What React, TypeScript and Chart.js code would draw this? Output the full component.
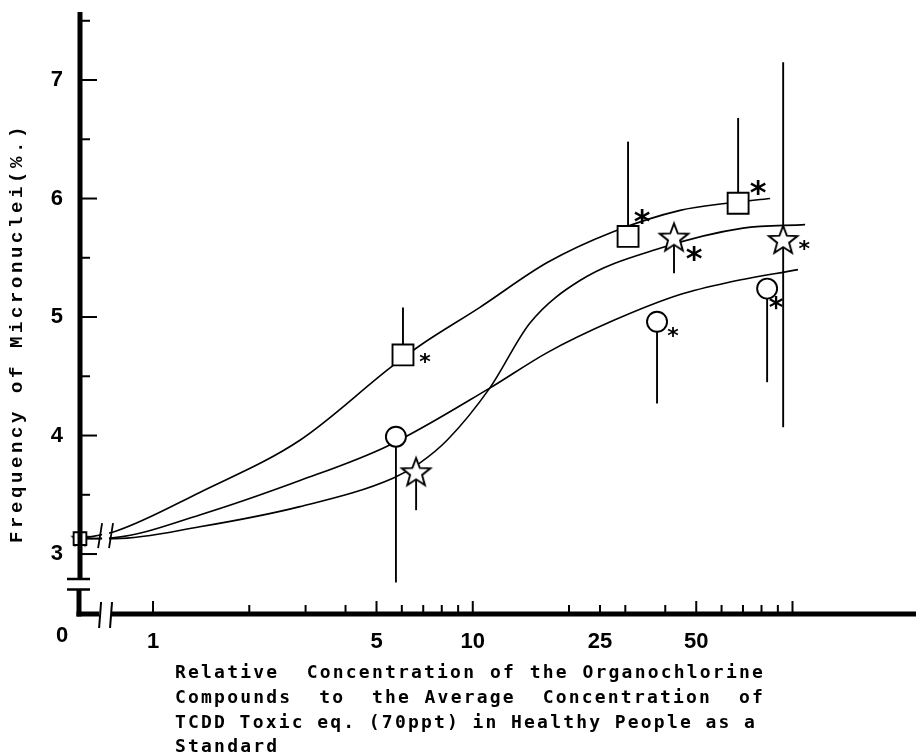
import { useEffect, useRef } from 'react';
import { Chart, registerables } from 'chart.js';

Chart.register(...registerables);

// ---- axis description -------------------------------------------------
const ZERO_X = 0.591; // plotting position of the "0" concentration (origin of broken axis)
const X_MIN = 0.591;
const X_MAX = 239.9;
const Y_MIN = 2.494;
const Y_MAX = 7.574;
const X_TICKS = [1, 2, 3, 4, 5, 6, 7, 8, 9, 10, 20, 25, 30, 40, 50, 60, 70, 80, 90, 100];
const X_MAJOR = [1, 5, 10, 50, 100];
const X_LABELS = [1, 5, 10, 25, 50];
const Y_TICKS = [3, 3.5, 4, 4.5, 5, 5.5, 6, 6.5, 7, 7.5];
const Y_LABELS = [3, 4, 5, 6, 7];
const X_BREAK = [0.683, 0.739];
const Y_BREAK = [2.7, 2.79];

// ---- measured points ----------------------------------------------------
const SQUARE_X = [ZERO_X, 6.05, 30.6, 67.6];
const SQUARE_Y = [3.13, 4.68, 5.68, 5.96];
const SQUARE_HI = [null, 5.08, 6.48, 6.68];
const SQUARE_LO = [null, null, null, null];
const SQUARE_SIG = [false, true, true, true];

const CIRCLE_X = [ZERO_X, 5.75, 37.7, 83.3];
const CIRCLE_Y = [3.13, 3.99, 4.96, 5.24];
const CIRCLE_HI = [null, null, null, null];
const CIRCLE_LO = [null, 2.76, 4.27, 4.45];
const CIRCLE_SIG = [false, false, true, true];

const STAR_X = [ZERO_X, 6.65, 42.6, 93.5];
const STAR_Y = [3.13, 3.69, 5.67, 5.65];
const STAR_HI = [null, null, null, 7.15];
const STAR_LO = [null, 3.37, 5.37, 4.07];
const STAR_SIG = [false, false, true, true];

// ---- fitted curves ------------------------------------------------------
const SQUARE_FIT_X = [ZERO_X, 0.76, 1.4, 2.88, 5.51, 6.84, 10.5, 17.1, 27.5, 44.5, 62.4, 85.1];
const SQUARE_FIT_Y = [3.13, 3.19, 3.52, 3.96, 4.57, 4.76, 5.08, 5.46, 5.72, 5.9, 5.96, 6.0];
const CIRCLE_FIT_X = [ZERO_X, 0.76, 1.4, 2.88, 5.4, 11.3, 17.1, 27.5, 44.5, 62.4, 104];
const CIRCLE_FIT_Y = [3.13, 3.14, 3.33, 3.62, 3.91, 4.4, 4.7, 4.97, 5.19, 5.29, 5.4];
const STAR_FIT_X = [ZERO_X, 0.76, 1.4, 2.88, 5.63, 6.84, 8.31, 11.3, 15.1, 21.7, 38.5, 70.0, 109.5];
const STAR_FIT_Y = [3.13, 3.13, 3.23, 3.4, 3.64, 3.77, 3.96, 4.4, 4.95, 5.31, 5.58, 5.75, 5.78];

const Y_TITLE = 'Frequency of Micronuclei(%.)';
const X_TITLE_LINES = [
  'Relative  Concentration of the Organochlorine',
  'Compounds  to  the Average  Concentration  of',
  'TCDD Toxic eq. (70ppt) in Healthy People as a',
  'Standard',
];

// asterisk placement (style only)
const SIG_STYLE: Record<string, any[]> = {
  square: [null, { dx: 22, dy: 3, size: 22 }, { dx: 14, dy: -20, size: 32 }, { dx: 20, dy: -16, size: 32 }],
  circle: [null, null, { dx: 16, dy: 11, size: 22 }, { dx: 9, dy: 15, size: 28 }],
  star: [null, null, { dx: 20, dy: 16, size: 32 }, { dx: 21, dy: 5, size: 22 }],
};

function makeStar(R: number, lw: number) {
  const r = R * 0.42;
  const size = Math.ceil(2 * R + lw * 2 + 4);
  const c = document.createElement('canvas');
  c.width = size;
  c.height = size;
  const g = c.getContext('2d')!;
  g.translate(size / 2, size / 2 + R * 0.05);
  g.beginPath();
  for (let i = 0; i < 10; i++) {
    const rad = i % 2 === 0 ? R : r;
    const a = -Math.PI / 2 + (i * Math.PI) / 5;
    g.lineTo(rad * Math.cos(a), rad * Math.sin(a));
  }
  g.closePath();
  g.fillStyle = '#fff';
  g.fill();
  g.lineWidth = lw;
  g.strokeStyle = '#000';
  g.stroke();
  return c;
}

const pts = (xs: number[], ys: number[]) => xs.map((x, i) => ({ x, y: ys[i] }));

export default function App() {
  const ref = useRef<HTMLCanvasElement>(null);

  useEffect(() => {
    const bigStar = makeStar(15, 1.9);
    const smallStar = makeStar(8, 1.5);

    const series = [
      { key: 'square', xs: SQUARE_X, ys: SQUARE_Y, hi: SQUARE_HI, lo: SQUARE_LO, sig: SQUARE_SIG },
      { key: 'circle', xs: CIRCLE_X, ys: CIRCLE_Y, hi: CIRCLE_HI, lo: CIRCLE_LO, sig: CIRCLE_SIG },
      { key: 'star', xs: STAR_X, ys: STAR_Y, hi: STAR_HI, lo: STAR_LO, sig: STAR_SIG },
    ];

    const decor = {
      id: 'decor',
      beforeDatasetsDraw(chart: any) {
        const { ctx } = chart;
        const X = (v: number) => chart.scales.x.getPixelForValue(v);
        const Y = (v: number) => chart.scales.y.getPixelForValue(v);
        ctx.save();
        ctx.strokeStyle = '#000';
        ctx.lineWidth = 1.9;
        series.forEach((s) => {
          s.xs.forEach((x, i) => {
            const ends = [s.hi[i], s.lo[i]];
            ends.forEach((e) => {
              if (e == null) return;
              ctx.beginPath();
              ctx.moveTo(X(x), Y(s.ys[i]));
              ctx.lineTo(X(x), Y(e));
              ctx.stroke();
            });
          });
        });
        ctx.restore();
      },
      afterDatasetsDraw(chart: any) {
        const { ctx } = chart;
        const X = (v: number) => chart.scales.x.getPixelForValue(v);
        const Y = (v: number) => chart.scales.y.getPixelForValue(v);
        ctx.save();
        // break in curves
        const b0 = X(X_BREAK[0]);
        const b1 = X(X_BREAK[1]);
        ctx.fillStyle = '#fff';
        ctx.fillRect(b0 + 2, Y(3.3), b1 - b0 - 4, Y(3.0) - Y(3.3));
        ctx.strokeStyle = '#000';
        ctx.lineWidth = 1.8;
        [b0, b1].forEach((b) => {
          ctx.beginPath();
          ctx.moveTo(b - 2, Y(3.05));
          ctx.lineTo(b + 2, Y(3.26));
          ctx.stroke();
        });
        // asterisks
        ctx.fillStyle = '#000';
        ctx.textAlign = 'center';
        ctx.textBaseline = 'middle';
        series.forEach((s) => {
          s.sig.forEach((flag, i) => {
            const st = SIG_STYLE[s.key][i];
            if (!flag || !st) return;
            ctx.font = `bold ${st.size}px "DejaVu Sans"`;
            ctx.fillText('*', X(s.xs[i]) + st.dx, Y(s.ys[i]) + st.dy + st.size * 0.22);
          });
        });
        ctx.restore();
      },
      afterDraw(chart: any) {
        const { ctx, chartArea } = chart;
        const X = (v: number) => chart.scales.x.getPixelForValue(v);
        const Y = (v: number) => chart.scales.y.getPixelForValue(v);
        const ax = X(ZERO_X);
        const bottom = chartArea.bottom;
        ctx.save();
        ctx.strokeStyle = '#000';
        ctx.lineCap = 'butt';
        // y axis
        ctx.lineWidth = 5;
        ctx.beginPath();
        ctx.moveTo(ax, chartArea.top);
        ctx.lineTo(ax, Y(Y_BREAK[1]));
        ctx.moveTo(ax - 1, Y(Y_BREAK[0]));
        ctx.lineTo(ax - 1, bottom + 2.5);
        ctx.stroke();
        ctx.lineWidth = 2.5;
        ctx.beginPath();
        ctx.moveTo(ax - 13, Y(Y_BREAK[1]));
        ctx.lineTo(ax + 10, Y(Y_BREAK[1]));
        ctx.moveTo(ax - 13, Y(Y_BREAK[0]));
        ctx.lineTo(ax + 10, Y(Y_BREAK[0]));
        ctx.stroke();
        // x axis
        const b0 = X(X_BREAK[0]);
        const b1 = X(X_BREAK[1]);
        ctx.lineWidth = 5;
        ctx.beginPath();
        ctx.moveTo(ax - 3.5, bottom);
        ctx.lineTo(b0 - 1, bottom);
        ctx.moveTo(b1, bottom);
        ctx.lineTo(chart.width, bottom);
        ctx.stroke();
        ctx.lineWidth = 2;
        [b0, b1].forEach((b) => {
          ctx.beginPath();
          ctx.moveTo(b - 1, bottom + 14);
          ctx.lineTo(b + 1, bottom - 12);
          ctx.stroke();
        });
        // ticks
        ctx.lineWidth = 2;
        Y_TICKS.forEach((v) => {
          const len = Number.isInteger(v) ? 17 : 10;
          ctx.beginPath();
          ctx.moveTo(ax, Y(v));
          ctx.lineTo(ax + len, Y(v));
          ctx.stroke();
        });
        X_TICKS.forEach((v) => {
          const len = X_MAJOR.includes(v) ? 13 : 9;
          ctx.beginPath();
          ctx.moveTo(X(v), bottom);
          ctx.lineTo(X(v), bottom - len);
          ctx.stroke();
        });
        // "0" label of the broken axis
        ctx.fillStyle = '#000';
        ctx.font = 'bold 22px "Liberation Sans"';
        ctx.textAlign = 'center';
        ctx.textBaseline = 'middle';
        ctx.fillText('0', ax - 18, bottom + 22);
        // y title
        ctx.save();
        ctx.translate(17, 333);
        ctx.rotate(-Math.PI / 2);
        ctx.font = 'bold 19px "Liberation Mono"';
        (ctx as any).letterSpacing = '3.6px';
        ctx.textAlign = 'center';
        ctx.textBaseline = 'middle';
        ctx.fillText(Y_TITLE, 0, 0);
        ctx.restore();
        // x title (justified lines)
        const x0 = 175;
        const rights = [765, 765, 757, null];
        const ys = [673, 698, 723, 747];
        ctx.font = 'bold 18px "DejaVu Sans Mono"';
        (ctx as any).letterSpacing = '2.2px';
        ctx.textAlign = 'left';
        ctx.textBaseline = 'middle';
        X_TITLE_LINES.forEach((line, i) => {
          (ctx as any).wordSpacing = '0px';
          const r = rights[i];
          if (r != null) {
            const w = ctx.measureText(line).width;
            const spaces = (line.match(/ /g) || []).length;
            if (spaces > 0) (ctx as any).wordSpacing = `${(r - x0 - w) / spaces}px`;
          }
          ctx.fillText(line, x0, ys[i]);
        });
        ctx.restore();
      },
    };

    const markerCommon = {
      type: 'scatter' as const,
      showLine: false,
      backgroundColor: '#fff',
      borderColor: '#000',
      borderWidth: 1.9,
      clip: false as any,
      order: 1,
    };
    const curveCommon = {
      type: 'line' as const,
      borderColor: '#000',
      borderWidth: 1.6,
      pointRadius: 0,
      fill: false,
      cubicInterpolationMode: 'monotone' as const,
      clip: false as any,
      order: 2,
    };

    const hiddenGrid = (len: number) => ({
      display: true,
      drawOnChartArea: false,
      drawTicks: true,
      tickLength: len,
      tickColor: 'rgba(0,0,0,0)',
      color: 'rgba(0,0,0,0)',
    });

    const chart = new Chart(ref.current!, {
      type: 'scatter',
      data: {
        datasets: [
          { ...curveCommon, label: 'square fit', data: pts(SQUARE_FIT_X, SQUARE_FIT_Y) },
          { ...curveCommon, label: 'circle fit', data: pts(CIRCLE_FIT_X, CIRCLE_FIT_Y) },
          { ...curveCommon, label: 'star fit', data: pts(STAR_FIT_X, STAR_FIT_Y) },
          {
            ...markerCommon,
            label: 'square',
            data: pts(SQUARE_X, SQUARE_Y),
            pointStyle: 'rect',
            pointRadius: SQUARE_X.map((_, i) => (i === 0 ? 9 : 14.8)),
          },
          {
            ...markerCommon,
            label: 'circle',
            data: pts(CIRCLE_X, CIRCLE_Y),
            pointStyle: 'circle',
            pointRadius: CIRCLE_X.map((_, i) => (i === 0 ? 6 : 10)),
          },
          {
            ...markerCommon,
            label: 'star',
            data: pts(STAR_X, STAR_Y),
            pointStyle: STAR_X.map((_, i) => (i === 0 ? smallStar : bigStar)) as any,
            pointRadius: 12,
          },
        ] as any,
      },
      options: {
        animation: false,
        responsive: true,
        maintainAspectRatio: false,
        events: [],
        layout: { autoPadding: false, padding: { top: 12, right: 2, left: 0, bottom: 0 } },
        plugins: { legend: { display: false }, tooltip: { enabled: false }, title: { display: false } },
        scales: {
          x: {
            type: 'logarithmic',
            min: X_MIN,
            max: X_MAX,
            grid: hiddenGrid(17),
            border: { display: false },
            afterBuildTicks: (s: any) => {
              s.ticks = X_TICKS.map((v) => ({ value: v }));
            },
            afterFit: (s: any) => {
              s.height = 141;
            },
            ticks: {
              autoSkip: false,
              maxRotation: 0,
              padding: 0,
              color: '#000',
              font: { family: '"Liberation Sans"', size: 22, weight: 'bold', lineHeight: 1 },
              callback: (v: any) => (X_LABELS.includes(Number(v)) ? String(v) : ''),
            },
          },
          y: {
            type: 'linear',
            min: Y_MIN,
            max: Y_MAX,
            grid: hiddenGrid(17),
            border: { display: false },
            afterBuildTicks: (s: any) => {
              s.ticks = Y_TICKS.map((v) => ({ value: v }));
            },
            afterFit: (s: any) => {
              s.width = 80;
            },
            ticks: {
              autoSkip: false,
              padding: 0,
              color: '#000',
              font: { family: '"Liberation Sans"', size: 22, weight: 'bold', lineHeight: 1 },
              callback: (v: any) => (Y_LABELS.includes(Number(v)) ? String(v) : ''),
            },
          },
        },
      } as any,
      plugins: [decor],
    });
    return () => chart.destroy();
  }, []);

  return (
    <div style={{ position: 'fixed', left: 0, top: 0, width: 916, height: 755, background: '#fff' }}>
      <canvas ref={ref} />
    </div>
  );
}
